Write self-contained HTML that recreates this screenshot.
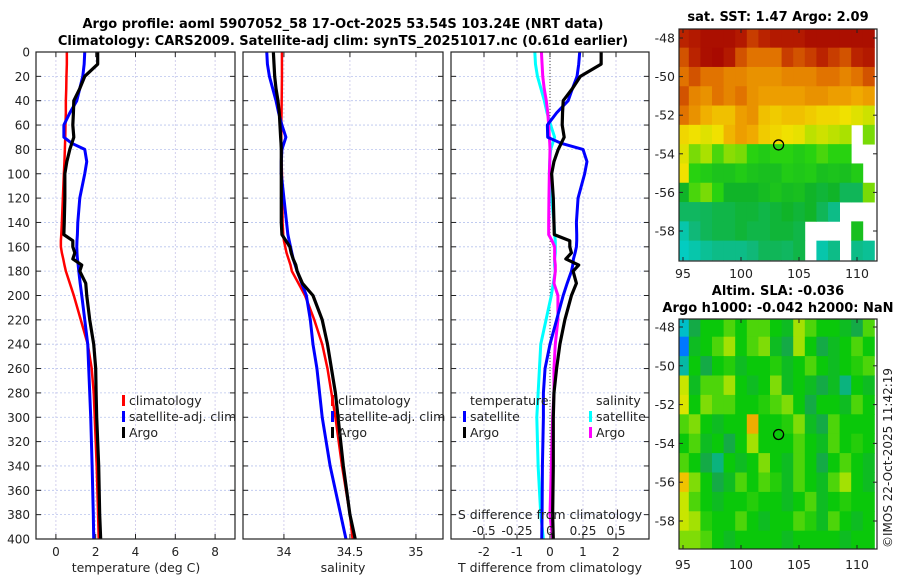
<!DOCTYPE html>
<html><head><meta charset="utf-8"><style>
body{margin:0;background:#fff;}
svg{display:block;font-family:"DejaVu Sans","Liberation Sans",sans-serif;}
</style></head><body>
<svg id="fig" width="900" height="580" viewBox="0 0 900 580">
<text x="343" y="28" text-anchor="middle" font-weight="bold" font-size="13">Argo profile: aoml 5907052_58 17-Oct-2025 53.54S 103.24E (NRT data)</text>
<text x="343" y="45" text-anchor="middle" font-weight="bold" font-size="13">Climatology: CARS2009. Satellite-adj clim: synTS_20251017.nc (0.61d earlier)</text>
<text x="778" y="21" text-anchor="middle" font-weight="bold" font-size="13">sat. SST: 1.47 Argo: 2.09</text>
<text x="778" y="295" text-anchor="middle" font-weight="bold" font-size="13">Altim. SLA: -0.036</text>
<text x="778" y="312" text-anchor="middle" font-weight="bold" font-size="13">Argo h1000: -0.042 h2000: NaN</text>
<text transform="translate(892,548) rotate(-90)" font-size="12" fill="#222">©IMOS 22-Oct-2025 11:42:19</text>
</svg>
<script>
// ---- profile data ----
const depths=[0,10,20,30,40,50,60,70,75,80,90,100,120,140,150,155,160,165,170,175,180,190,200,220,240,260,280,300,340,380,400];
const tempClim=[0.55,0.55,0.53,0.52,0.5,0.5,0.48,0.47,0.46,0.45,0.43,0.4,0.35,0.3,0.27,0.25,0.25,0.3,0.37,0.43,0.5,0.7,0.9,1.25,1.6,1.8,1.9,1.95,2.05,2.12,2.15];
const tempSat=[1.45,1.42,1.35,1.2,1.05,0.7,0.4,0.4,0.8,1.45,1.55,1.45,1.2,1.1,1.08,1.06,1.05,1.06,1.08,1.12,1.15,1.22,1.3,1.45,1.6,1.65,1.7,1.75,1.82,1.88,1.9];
const tempArgo=[2.1,2.1,1.45,1.2,0.9,0.88,0.85,0.9,0.8,0.7,0.55,0.45,0.45,0.42,0.4,0.85,0.85,0.95,0.85,1.3,1.2,1.5,1.55,1.7,1.9,2.0,2.02,2.05,2.15,2.2,2.25];
const salClim=[33.985,33.985,33.985,33.984,33.983,33.982,33.98,33.98,33.98,33.98,33.982,33.985,33.988,33.99,33.995,34.0,34.01,34.02,34.035,34.05,34.06,34.11,34.16,34.23,34.29,34.33,34.36,34.39,34.44,34.5,34.52];
const salSat=[33.87,33.875,33.89,33.915,33.94,33.96,33.985,34.015,34.0,33.985,33.98,33.98,34.0,34.02,34.03,34.04,34.05,34.06,34.07,34.085,34.1,34.135,34.17,34.2,34.22,34.25,34.27,34.29,34.35,34.43,34.47];
const salArgo=[33.92,33.925,33.93,33.94,33.955,33.965,33.97,33.975,33.978,33.98,33.98,33.98,33.98,33.98,33.985,34.015,34.045,34.055,34.07,34.09,34.1,34.14,34.22,34.29,34.33,34.36,34.39,34.41,34.45,34.5,34.54];
const depthTicks=[0,20,40,60,80,100,120,140,160,180,200,220,240,260,280,300,320,340,360,380,400];
const tempTicks=[0,2,4,6,8];
const salTicks=[34,34.5,35];
const salTickLabels=["34","34.5","35"];
const tdiffTicks=[-2,-1,0,1,2];
const sdiffTicks=[-0.5,-0.25,0,0.25,0.5];
const sdiffTickLabels=["-0.5","-0.25","0","0.25","0.5"];
// ---- map data (rows lat -48..-59, cols lon 95..111), null = no data ----
const mapLons=[95,96,97,98,99,100,101,102,103,104,105,106,107,108,109,110,111];
const mapLats=[-48,-49,-50,-51,-52,-53,-54,-55,-56,-57,-58,-59];
const sstGrid=[
[0.93,0.95,0.97,0.97,0.97,0.95,0.9,0.93,0.95,0.95,0.95,0.97,0.97,0.97,0.97,0.97,0.97],
[0.88,0.93,0.97,0.98,0.95,0.88,0.85,0.85,0.85,0.9,0.88,0.9,0.93,0.9,0.88,0.93,0.95],
[0.85,0.88,0.85,0.85,0.82,0.82,0.8,0.8,0.8,0.82,0.82,0.82,0.85,0.85,0.82,0.85,0.88],
[0.88,0.82,0.8,0.85,0.82,0.85,0.8,0.78,0.78,0.78,0.78,0.8,0.8,0.78,0.78,0.76,0.78],
[0.85,0.8,0.75,0.72,0.72,0.78,0.8,0.72,0.7,0.72,0.72,0.7,0.68,0.68,0.66,0.64,0.62],
[0.68,0.66,0.64,0.66,0.74,0.78,0.76,0.7,0.68,0.66,0.65,0.6,0.62,0.6,0.58,null,0.55],
[0.64,0.55,0.58,0.52,0.56,0.55,0.5,0.48,0.5,0.5,0.48,0.5,0.52,0.5,0.5,null,null],
[0.66,0.5,0.48,0.46,0.46,0.48,0.46,0.45,0.45,0.48,0.47,0.48,0.45,0.46,0.45,0.48,null],
[0.42,0.52,0.55,0.5,0.42,0.42,0.42,0.44,0.46,0.44,0.45,0.42,0.4,0.42,0.36,0.36,0.55],
[0.35,0.35,0.36,0.38,0.38,0.4,0.4,0.38,0.4,0.42,0.4,0.42,0.36,0.3,null,null,null],
[0.25,0.32,0.36,0.38,0.38,0.4,0.38,0.38,0.4,0.4,0.38,null,null,null,null,0.45,null],
[0.22,0.25,0.28,0.3,0.3,0.3,0.32,0.36,0.36,0.35,0.38,null,0.25,0.3,null,0.3,0.28]];
const slaGrid=[
[0.38,0.45,0.5,0.5,0.55,0.5,0.55,0.55,0.5,0.48,0.6,0.55,0.5,0.5,0.48,0.45,0.55],
[0.3,0.48,0.5,0.55,0.6,0.5,0.55,0.58,0.48,0.45,0.6,0.5,0.45,0.48,0.5,0.55,0.5],
[0.4,0.5,0.45,0.5,0.52,0.48,0.5,0.5,0.52,0.48,0.5,0.55,0.5,0.48,0.5,0.52,0.55],
[0.62,0.48,0.55,0.55,0.6,0.5,0.48,0.5,0.58,0.48,0.5,0.48,0.45,0.48,0.42,0.5,0.48],
[0.65,0.5,0.58,0.55,0.55,0.5,0.5,0.52,0.55,0.58,0.5,0.45,0.5,0.5,0.48,0.55,0.5],
[0.55,0.58,0.5,0.48,0.5,0.5,0.75,0.5,0.5,0.52,0.58,0.48,0.45,0.55,0.5,0.5,0.5],
[0.5,0.55,0.48,0.5,0.45,0.5,0.6,0.5,0.5,0.5,0.55,0.5,0.48,0.55,0.5,0.52,0.5],
[0.55,0.5,0.45,0.42,0.5,0.48,0.5,0.58,0.5,0.48,0.55,0.5,0.45,0.5,0.55,0.5,0.48],
[0.72,0.58,0.5,0.45,0.48,0.55,0.5,0.55,0.52,0.48,0.55,0.5,0.48,0.55,0.6,0.5,0.48],
[0.62,0.55,0.5,0.48,0.5,0.5,0.52,0.5,0.5,0.48,0.5,0.55,0.48,0.5,0.52,0.5,0.5],
[0.62,0.6,0.52,0.5,0.5,0.55,0.5,0.48,0.5,0.5,0.55,0.52,0.48,0.55,0.5,0.48,0.5],
[0.58,0.58,0.55,0.5,0.48,0.5,0.5,0.5,0.5,0.48,0.5,0.5,0.5,0.5,0.48,0.5,0.5]];
const argoLon=103.24, argoLat=-53.54;
const lonTicks=[95,100,105,110];
const latTicks=[-48,-50,-52,-54,-56,-58];

const NS='http://www.w3.org/2000/svg';
const svg=document.getElementById('fig');
function mk(tag,attrs,parent){const e=document.createElementNS(NS,tag);for(const k in attrs)e.setAttribute(k,attrs[k]);(parent||svg).appendChild(e);return e;}
function txt(x,y,s,size,anchor,parent){const t=mk('text',{x:x,y:y,'font-size':size,'text-anchor':anchor||'middle',fill:'#222'},parent);t.textContent=s;return t;}

const PT=52, PB=539;
const yD=d=>PT+(d/400)*(PB-PT);
const panels=[
 {x0:36,x1:235,min:-1,max:9},
 {x0:243,x1:443,min:33.69,max:35.205},
 {x0:451,x1:649,min:-3,max:3}];
function sx(p,v){return p.x0+(v-p.min)/(p.max-p.min)*(p.x1-p.x0);}
const sdx=v=>sx(panels[2],v*4);

function drawPanel(i,p,xt,xl,name){
  const g=mk('g',{});
  
  
  depthTicks.forEach(d=>{mk('line',{x1:p.x0,x2:p.x1,y1:yD(d),y2:yD(d),stroke:'#b8c4ee','stroke-width':0.8,'stroke-dasharray':'2,2'},g);});
  xt.forEach(v=>{const x=sx(p,v);mk('line',{x1:x,x2:x,y1:PT,y2:PB,stroke:'#c8c4e8','stroke-width':0.8,'stroke-dasharray':'2,2'},g);
    mk('line',{x1:x,x2:x,y1:PB,y2:PB-5,stroke:'#222'},g);mk('line',{x1:x,x2:x,y1:PT,y2:PT+5,stroke:'#222'},g);});
  depthTicks.forEach(d=>{mk('line',{x1:p.x0,x2:p.x0+5,y1:yD(d),y2:yD(d),stroke:'#222'},g);mk('line',{x1:p.x1,x2:p.x1-5,y1:yD(d),y2:yD(d),stroke:'#222'},g);});
  xt.forEach((v,k)=>{const t=txt(sx(p,v),556,xl[k],12,'middle',g);});
  return g;
}
function line(g,xs,name,color,w){
  const pts=depths.map((d,k)=>xs[k].toFixed(2)+','+yD(d).toFixed(2)).join(' ');
  const pl=mk('polyline',{points:pts,fill:'none',stroke:color,'stroke-width':w,'stroke-linejoin':'round'},g);
  
  
}
let g1=drawPanel(0,panels[0],tempTicks,tempTicks.map(String),'temperature-panel');
line(g1,tempClim.map(v=>sx(panels[0],v)),'temp-climatology-line','#f00',2.5);
line(g1,tempSat.map(v=>sx(panels[0],v)),'temp-satellite-line','#00f',3);
line(g1,tempArgo.map(v=>sx(panels[0],v)),'temp-argo-line','#000',3.2);
let g2=drawPanel(1,panels[1],salTicks,salTickLabels,'salinity-panel');
line(g2,salClim.map(v=>sx(panels[1],v)),'sal-climatology-line','#f00',2.5);
line(g2,salSat.map(v=>sx(panels[1],v)),'sal-satellite-line','#00f',3);
line(g2,salArgo.map(v=>sx(panels[1],v)),'sal-argo-line','#000',3.2);
let g3=drawPanel(2,panels[2],tdiffTicks,tdiffTicks.map(String),'difference-panel');
{const x=sx(panels[2],0);const z=mk('line',{x1:x,x2:x,y1:PT,y2:PB,stroke:'#444','stroke-width':1,'stroke-dasharray':'1,2'},g3);
}
line(g3,salSat.map((v,k)=>sdx(v-salClim[k])),'sdiff-satellite-line','#0ff',3);
line(g3,salArgo.map((v,k)=>sdx(v-salClim[k])),'sdiff-argo-line','#f0f',3);
line(g3,tempSat.map((v,k)=>sx(panels[2],v-tempClim[k])),'tdiff-satellite-line','#00f',3);
line(g3,tempArgo.map((v,k)=>sx(panels[2],v-tempClim[k])),'tdiff-argo-line','#000',3.2);
sdiffTicks.forEach((v,k)=>{const t=txt(sdx(v),535,sdiffTickLabels[k],12,'middle');});
{const t=txt(550,519,'S difference from climatology',12.5);}
panels.forEach((p,i)=>{const r=mk('rect',{x:p.x0,y:PT,width:p.x1-p.x0,height:PB-PT,fill:'none',stroke:'#222','stroke-width':1.2});
 });
depthTicks.forEach(d=>{const t=txt(30,yD(d)+4.5,String(d),12,'end');});
[[136,'temperature (deg C)','temperature-axis-title'],[343,'salinity','salinity-axis-title'],[550,'T difference from climatology','t-diff-axis-title']].forEach(a=>{
 const t=txt(a[0],572,a[1],12.5);});
function legend(x,y,color,label,name){
 const g=mk('g',{});
 mk('rect',{x:x,y:y-10,width:3,height:11,fill:color},g);
 txt(x+7,y,label,12.5,'start',g);}
legend(122,405,'#f00','climatology','legend-climatology');
legend(122,421,'#00f','satellite-adj. clim','legend-satellite-adj');
legend(122,437,'#000','Argo','legend-argo');
legend(331,405,'#f00','climatology','legend-sal-climatology');
legend(331,421,'#00f','satellite-adj. clim','legend-sal-satellite-adj');
legend(331,437,'#000','Argo','legend-sal-argo');
{const t=txt(470,405,'temperature',12.5,'start');
 const u=txt(596,405,'salinity',12.5,'start');}
legend(463,421,'#00f','satellite','legend-tdiff-satellite');
legend(463,437,'#000','Argo','legend-tdiff-argo');
legend(589,421,'#0ff','satellite','legend-sdiff-satellite');
legend(589,437,'#f0f','Argo','legend-sdiff-argo');

function lerpColor(stops,v){
 if(v<=stops[0][0])return stops[0][1];
 for(let i=1;i<stops.length;i++){if(v<=stops[i][0]){const a=stops[i-1],b=stops[i],t=(v-a[0])/(b[0]-a[0]);
  const c=a[1].map((x,k)=>Math.round(x+(b[1][k]-x)*t));return c;}}
 return stops[stops.length-1][1];}
const sstStops=[[0,[0,128,255]],[0.2,[0,208,208]],[0.32,[16,184,120]],[0.42,[16,180,40]],[0.5,[40,210,16]],[0.58,[170,225,0]],[0.66,[240,225,0]],[0.76,[240,170,0]],[0.85,[225,115,0]],[0.92,[190,40,0]],[1,[160,0,0]]];
const slaStops=[[0,[0,0,200]],[0.3,[0,120,255]],[0.38,[0,190,200]],[0.45,[20,170,70]],[0.5,[10,200,10]],[0.56,[90,215,10]],[0.62,[200,230,0]],[0.68,[240,225,0]],[0.78,[240,150,0]],[0.9,[230,40,0]],[1,[160,0,0]]];
function drawMap(box,grid,stops,name,labelY){
 const g=mk('g',{});
 const lx=lon=>box.x95+(lon-95)*box.kx, ly=lat=>box.y48+(-48-lat)*box.ky;
 const cp='clip-'+name;const cl=mk('clipPath',{id:cp},g);mk('rect',{x:box.x0,y:box.y0,width:box.x1-box.x0,height:box.y1-box.y0},cl);
 const cg=mk('g',{'clip-path':'url(#'+cp+')'},g);
 mapLats.forEach((lat,r)=>mapLons.forEach((lon,c)=>{const v=grid[r][c];if(v===null)return;
  const col=lerpColor(stops,v);
  const cell=mk('rect',{x:(lx(lon-0.5)).toFixed(2),y:(ly(lat+0.5)).toFixed(2),width:(box.kx+0.4).toFixed(2),height:(box.ky+0.4).toFixed(2),fill:'rgb('+col.join(',')+')'},cg);
  
  }));
 mk('rect',{x:box.x0,y:box.y0,width:box.x1-box.x0,height:box.y1-box.y0,fill:'none',stroke:'#222','stroke-width':1.2},g);
 lonTicks.forEach(l=>{const x=lx(l);mk('line',{x1:x,x2:x,y1:box.y1,y2:box.y1-4,stroke:'#222'},g);mk('line',{x1:x,x2:x,y1:box.y0,y2:box.y0+4,stroke:'#222'},g);
  const t=txt(x,labelY,String(l),12.5,'middle',g);});
 latTicks.forEach(l=>{const y=ly(l);mk('line',{x1:box.x0,x2:box.x0+4,y1:y,y2:y,stroke:'#222'},g);mk('line',{x1:box.x1,x2:box.x1-4,y1:y,y2:y,stroke:'#222'},g);
  const t=txt(box.x0-4,y+4.5,String(l),12.5,'end',g);});
 const m=mk('circle',{cx:lx(argoLon),cy:ly(argoLat),r:5,fill:'none',stroke:'#000','stroke-width':1.3},g);
 
}
drawMap({x0:679,x1:877,y0:29,y1:261,x95:683,kx:11.6,y48:38,ky:19.3},sstGrid,sstStops,'sst-map',278);
drawMap({x0:679,x1:877,y0:319,y1:549,x95:683,kx:11.6,y48:327,ky:19.4},slaGrid,slaStops,'sla-map',569);
</script>
</body></html>
